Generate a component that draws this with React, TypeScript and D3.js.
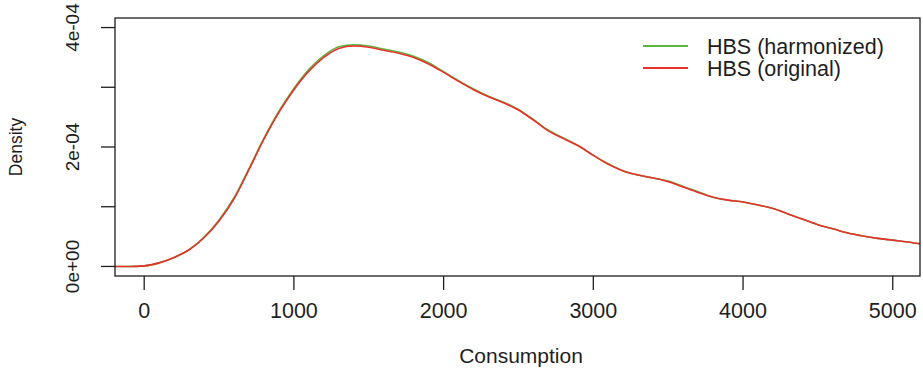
import React, { useEffect, useRef } from "react";
import * as d3 from "d3";

// Kernel density estimates of household consumption (density in units of 1e-4)
const consumption = [
  -195, -100, 0, 100, 200, 300, 400, 500, 600, 700, 800, 900, 1000, 1100, 1200,
  1300, 1400, 1500, 1600, 1700, 1800, 1900, 2000, 2100, 2200, 2300, 2400, 2500,
  2600, 2700, 2800, 2900, 3000, 3100, 3200, 3300, 3400, 3500, 3600, 3700, 3800,
  3900, 4000, 4100, 4200, 4300, 4400, 4500, 4600, 4700, 4800, 4900, 5000, 5100, 5182,
];
const densityOriginal = [
  0.0, 0.0, 0.01, 0.06, 0.15, 0.28, 0.48, 0.76, 1.13, 1.62, 2.13, 2.58, 2.96, 3.27,
  3.5, 3.65, 3.69, 3.67, 3.62, 3.57, 3.5, 3.39, 3.25, 3.1, 2.96, 2.84, 2.74, 2.62,
  2.45, 2.27, 2.14, 2.02, 1.86, 1.71, 1.6, 1.53, 1.48, 1.42, 1.33, 1.24, 1.16,
  1.11, 1.08, 1.03, 0.97, 0.88, 0.79, 0.7, 0.63, 0.56, 0.51, 0.47, 0.44, 0.41, 0.38,
];
const densityHarmonized = [
  0.0, 0.0, 0.01, 0.06, 0.15, 0.28, 0.49, 0.78, 1.15, 1.64, 2.15, 2.6, 2.98, 3.3,
  3.53, 3.68, 3.71, 3.69, 3.64, 3.59, 3.52, 3.41, 3.26, 3.11, 2.97, 2.85, 2.75, 2.63,
  2.46, 2.28, 2.15, 2.02, 1.86, 1.72, 1.6, 1.53, 1.48, 1.43, 1.34, 1.25, 1.16,
  1.11, 1.08, 1.03, 0.97, 0.88, 0.79, 0.7, 0.63, 0.56, 0.51, 0.47, 0.44, 0.41, 0.38,
];

const xTicks = [0, 1000, 2000, 3000, 4000, 5000];
const yTicks = [0, 1, 2, 3, 4];
const yTickLabels: Record<number, string> = { 0: "0e+00", 2: "2e-04", 4: "4e-04" };

const seriesNames = ["HBS (harmonized)", "HBS (original)"];
const seriesColors = ["#5cb83c", "#e8302c"];

const W = 923;
const H = 371;
const box = { left: 115, right: 920, top: 18, bottom: 276 };
const FONT = "Liberation Sans, Arial, Helvetica, sans-serif";
const INK = "#1e1e1e";

export default function App() {
  const ref = useRef<SVGSVGElement | null>(null);

  useEffect(() => {
    const svg = d3.select(ref.current);
    svg.selectAll("*").remove();

    const x = d3.scaleLinear().domain([-195, 5182]).range([box.left, box.right]);
    const y = d3.scaleLinear().domain([-0.16, 4.16]).range([box.bottom, box.top]);

    svg.append("rect").attr("width", W).attr("height", H).attr("fill", "#fff");

    const clip = svg.append("clipPath").attr("id", "plot-clip");
    clip.append("rect")
      .attr("x", box.left).attr("y", box.top)
      .attr("width", box.right - box.left).attr("height", box.bottom - box.top);

    const line = d3.line<number>()
      .x((_, i) => x(consumption[i]))
      .y((d) => y(d))
      .curve(d3.curveMonotoneX);

    const plot = svg.append("g").attr("clip-path", "url(#plot-clip)");
    [densityHarmonized, densityOriginal].forEach((series, k) => {
      plot.append("path")
        .datum(series)
        .attr("d", line)
        .attr("fill", "none")
        .attr("stroke", seriesColors[k])
        .attr("stroke-width", 1.6)
        .attr("stroke-linejoin", "round");
    });

    // frame
    svg.append("rect")
      .attr("x", box.left).attr("y", box.top)
      .attr("width", box.right - box.left).attr("height", box.bottom - box.top)
      .attr("fill", "none").attr("stroke", INK).attr("stroke-width", 1.3);

    // x axis
    const xg = svg.append("g");
    xTicks.forEach((t) => {
      xg.append("line")
        .attr("x1", x(t)).attr("x2", x(t))
        .attr("y1", box.bottom).attr("y2", box.bottom + 14)
        .attr("stroke", INK).attr("stroke-width", 1.3);
      xg.append("text")
        .attr("x", x(t)).attr("y", 318)
        .attr("text-anchor", "middle")
        .attr("font-family", FONT).attr("font-size", 21.5)
        .attr("fill", INK)
        .text(String(t));
    });

    // y axis
    const yg = svg.append("g");
    yTicks.forEach((t) => {
      yg.append("line")
        .attr("x1", box.left - 14).attr("x2", box.left)
        .attr("y1", y(t)).attr("y2", y(t))
        .attr("stroke", INK).attr("stroke-width", 1.3);
      const label = yTickLabels[t];
      if (label) {
        yg.append("text")
          .attr("transform", `translate(79,${y(t)}) rotate(-90)`)
          .attr("text-anchor", "middle")
          .attr("font-family", FONT).attr("font-size", 19)
          .attr("fill", INK)
          .text(label);
      }
    });

    // axis titles
    svg.append("text")
      .attr("x", 521).attr("y", 363)
      .attr("text-anchor", "middle")
      .attr("font-family", FONT).attr("font-size", 21)
      .attr("fill", INK)
      .text("Consumption");
    svg.append("text")
      .attr("transform", `translate(22,147) rotate(-90)`)
      .attr("text-anchor", "middle")
      .attr("font-family", FONT).attr("font-size", 17.5)
      .attr("fill", INK)
      .text("Density");

    // legend
    const lg = svg.append("g");
    seriesNames.forEach((name, k) => {
      const ly = 46 + k * 22;
      lg.append("line")
        .attr("x1", 643).attr("x2", 688)
        .attr("y1", ly).attr("y2", ly)
        .attr("stroke", seriesColors[k]).attr("stroke-width", 2.2);
      lg.append("text")
        .attr("x", 707).attr("y", ly + 7.5)
        .attr("font-family", FONT).attr("font-size", 21.5)
        .attr("fill", INK)
        .text(name);
    });
  }, []);

  return (
    <svg
      ref={ref}
      width={W}
      height={H}
      style={{ position: "absolute", left: 0, top: 0, display: "block" }}
    />
  );
}
